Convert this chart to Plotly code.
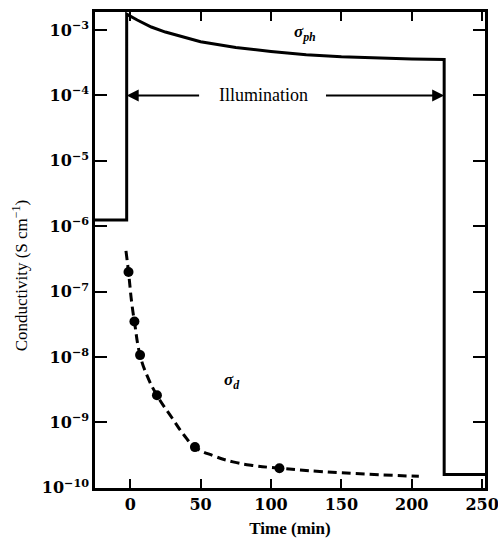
import plotly.graph_objects as go

# Photoconductivity response: dark level, illumination from t = 0 to ~223 min, then dark again
ph_time = [-25, -2.5, -2.5, 5, 15, 25, 50, 75, 100, 125, 150, 175, 200, 223, 223, 252]
ph_sigma = [1.25e-6, 1.25e-6, 1.75e-3, 1.42e-3, 1.11e-3, 9.3e-4, 6.6e-4, 5.4e-4,
            4.7e-4, 4.2e-4, 3.9e-4, 3.7e-4, 3.6e-4, 3.55e-4, 1.6e-10, 1.6e-10]

# Dark-conductivity relaxation curve (dashed) and measured points
d_curve_time = [-3, -1.2, 1, 3, 7, 12, 19, 30, 38, 46, 59, 73, 87, 106, 150, 205]
d_curve_sigma = [4.2e-7, 2.0e-7, 7.0e-8, 3.5e-8, 1.07e-8, 5.2e-9, 2.6e-9, 1.15e-9,
                 6.5e-10, 4.2e-10, 3.1e-10, 2.5e-10, 2.2e-10, 2.0e-10, 1.7e-10, 1.5e-10]
d_point_time = [-1.2, 3, 7, 19, 46, 106]
d_point_sigma = [2.0e-7, 3.5e-8, 1.07e-8, 2.6e-9, 4.2e-10, 2.0e-10]

x_ticks = [0, 50, 100, 150, 200, 250]
y_exponents = [-3, -4, -5, -6, -7, -8, -9, -10]

fig = go.Figure()

fig.add_trace(go.Scatter(
    x=ph_time, y=ph_sigma, mode="lines",
    line=dict(color="black", width=3), showlegend=False, hoverinfo="skip"))

fig.add_trace(go.Scatter(
    x=d_curve_time, y=d_curve_sigma, mode="lines",
    line=dict(color="black", width=3, dash="9px,5px", shape="spline", smoothing=1.3),
    showlegend=False, hoverinfo="skip"))

fig.add_trace(go.Scatter(
    x=d_point_time, y=d_point_sigma, mode="markers",
    marker=dict(color="black", size=10), showlegend=False, hoverinfo="skip"))

tick_font = dict(family="DejaVu Serif", size=16, color="black", weight="bold")

fig.update_xaxes(
    range=[-25, 252], tickvals=x_ticks, ticktext=[str(v) for v in x_ticks],
    ticks="inside", ticklen=9, tickwidth=2, tickcolor="black",
    showline=True, linewidth=2.5, linecolor="black", mirror="ticks",
    showgrid=False, zeroline=False, tickfont=tick_font, automargin=False,
    ticklabeloverflow="allow",
    title=dict(text="Time (min)", standoff=12,
               font=dict(family="Liberation Serif", size=17, color="black", weight="bold")))

fig.update_yaxes(
    type="log", range=[-10.002, -2.725],
    tickvals=[10.0 ** e for e in y_exponents],
    ticktext=["10<sup>\u2212%d</sup>" % (-e) for e in y_exponents],
    ticks="inside", ticklen=12, tickwidth=2, tickcolor="black",
    showline=True, linewidth=2.5, linecolor="black", mirror="ticks",
    showgrid=False, zeroline=False, tickfont=tick_font, automargin=False,
    ticklabeloverflow="allow")

# Illumination period marker: double-headed arrow broken by its label
arrow_y = -4  # log10 of 1e-4
fig.add_annotation(x=-2.5, y=arrow_y, ax=50, ay=arrow_y, axref="x", ayref="y",
                   xref="x", yref="y", text="", showarrow=True,
                   arrowhead=2, arrowsize=1.2, arrowwidth=2, arrowcolor="black")
fig.add_annotation(x=223, y=arrow_y, ax=138, ay=arrow_y, axref="x", ayref="y",
                   xref="x", yref="y", text="", showarrow=True,
                   arrowhead=2, arrowsize=1.2, arrowwidth=2, arrowcolor="black")
fig.add_annotation(x=95, y=arrow_y, xref="x", yref="y", text="Illumination",
                   showarrow=False,
                   font=dict(family="Liberation Serif", size=18, color="black"))

fig.add_annotation(x=124, y=-3.05, xref="x", yref="y",
                   text="<i><b>\u03c3<sub>ph</sub></b></i>", showarrow=False,
                   font=dict(family="Liberation Serif", size=17, color="black"))
fig.add_annotation(x=72, y=-8.37, xref="x", yref="y",
                   text="<i><b>\u03c3<sub>d</sub></b></i>", showarrow=False,
                   font=dict(family="Liberation Serif", size=17, color="black"))

fig.add_annotation(x=-0.192, y=0.447, xref="paper", yref="paper",
                   xanchor="center", yanchor="middle",
                   text="Conductivity (S cm<sup>\u22121</sup>)", textangle=-90,
                   showarrow=False,
                   font=dict(family="Liberation Serif", size=17, color="black"))

fig.update_layout(
    width=498, height=538,
    margin=dict(l=95, r=13, t=12, b=50),
    paper_bgcolor="white", plot_bgcolor="white",
)

fig.write_html("out.html")
